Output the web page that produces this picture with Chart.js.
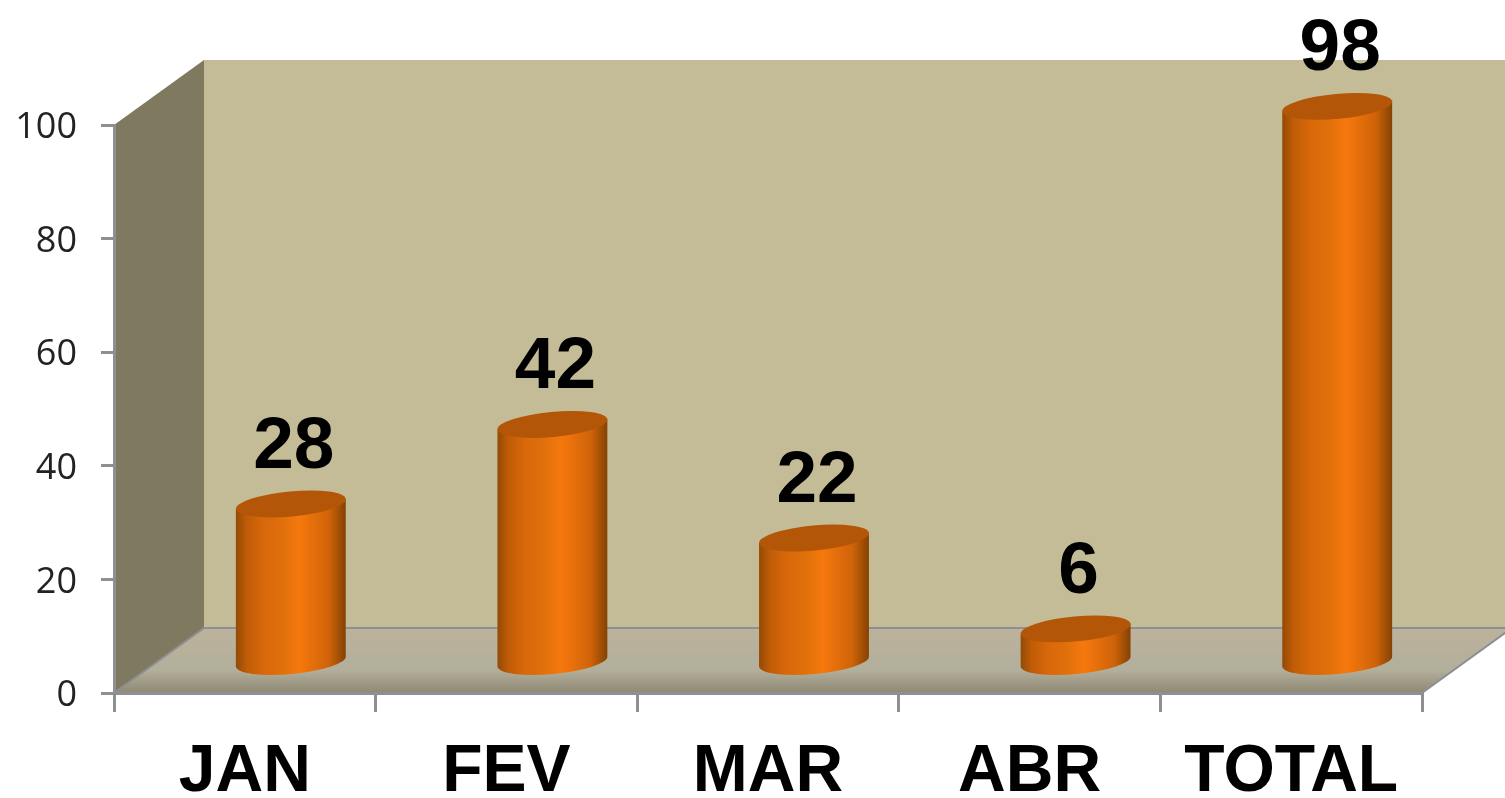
<!DOCTYPE html>
<html>
<head>
<meta charset="utf-8">
<title>Total por mês</title>
<script src="https://cdn.jsdelivr.net/npm/chart.js@4/dist/chart.umd.min.js"></script>
<style>
  html, body { margin: 0; padding: 0; background: #fff; }
  canvas { display: block; }
</style>
</head>
<body>
<canvas id="grafico" width="1505" height="798"></canvas>
<script>
const categorias = ['JAN', 'FEV', 'MAR', 'ABR', 'TOTAL'];
const valores = [28, 42, 22, 6, 98];

const corEixo = '#8e8f94';
const profX = 90, profY = 65;       // profundidade do "3D"
const baseX = 46, baseY = 30;       // onde a barra assenta no chão
const inclinacao = -0.092;          // elipse levemente girada
const raioMenor = 12.5;

// Paredes e chão
const paredes = {
  id: 'paredes',
  beforeDraw(chart) {
    const { ctx, chartArea: a } = chart;
    ctx.save();

    // parede do fundo
    ctx.fillStyle = '#c4bc96';
    ctx.fillRect(a.left + profX, a.top - profY, chart.width - a.left - profX, a.bottom - a.top);

    // parede lateral
    ctx.fillStyle = '#7f7a5f';
    ctx.beginPath();
    ctx.moveTo(a.left, a.top);
    ctx.lineTo(a.left + profX, a.top - profY);
    ctx.lineTo(a.left + profX, a.bottom - profY);
    ctx.lineTo(a.left, a.bottom);
    ctx.closePath();
    ctx.fill();

    // chão
    const g = ctx.createLinearGradient(0, a.bottom - profY, 0, a.bottom);
    g.addColorStop(0, '#bdb29c');
    g.addColorStop(0.65, '#b2af9b');
    g.addColorStop(1, '#8f8874');
    ctx.fillStyle = g;
    ctx.beginPath();
    ctx.moveTo(a.left, a.bottom);
    ctx.lineTo(a.left + profX, a.bottom - profY);
    ctx.lineTo(a.right + profX, a.bottom - profY);
    ctx.lineTo(a.right, a.bottom);
    ctx.closePath();
    ctx.fill();

    // linhas do chão
    ctx.strokeStyle = corEixo;
    ctx.lineWidth = 2;
    ctx.beginPath();
    ctx.moveTo(a.left, a.bottom);
    ctx.lineTo(a.left + profX, a.bottom - profY);
    ctx.lineTo(a.right + profX, a.bottom - profY);
    ctx.moveTo(a.right, a.bottom);
    ctx.lineTo(a.right + profX, a.bottom - profY);
    ctx.stroke();
    ctx.restore();

    // desce um pouco os números do eixo y
    chart.scales.y.getLabelItems().forEach(item => {
      item.options.translation[1] += 3;
    });
  }
};

// Cilindros e rótulos de valor
const cilindros = {
  id: 'cilindros',
  afterDatasetsDraw(chart) {
    const { ctx } = chart;
    const meta = chart.getDatasetMeta(0);
    meta.data.forEach((bar, i) => {
      const cx = bar.x + baseX;
      const top = bar.y - baseY;
      const bottom = bar.base - baseY;
      const rx = bar.width / 2 / Math.cos(inclinacao);
      const dy = rx * Math.sin(inclinacao);
      const left = cx - bar.width / 2, right = cx + bar.width / 2;

      ctx.save();
      const g = ctx.createLinearGradient(left, 0, right, 0);
      g.addColorStop(0, '#934a05');
      g.addColorStop(0.1, '#c05c07');
      g.addColorStop(0.25, '#d8680a');
      g.addColorStop(0.42, '#e0700b');
      g.addColorStop(0.58, '#f6780d');
      g.addColorStop(0.85, '#cf6309');
      g.addColorStop(1, '#844204');
      ctx.fillStyle = g;
      ctx.beginPath();
      ctx.moveTo(left, top - dy);
      ctx.lineTo(right, top + dy);
      ctx.lineTo(right, bottom + dy);
      ctx.ellipse(cx, bottom, rx, raioMenor, inclinacao, 0, Math.PI);
      ctx.closePath();
      ctx.fill();

      ctx.fillStyle = '#b35607';
      ctx.beginPath();
      ctx.ellipse(cx, top, rx, raioMenor, inclinacao, 0, Math.PI * 2);
      ctx.fill();

      ctx.fillStyle = '#000';
      ctx.font = 'bold 73px "Liberation Sans"';
      ctx.textAlign = 'center';
      ctx.textBaseline = 'alphabetic';
      ctx.fillText(String(valores[i]), cx + 3, top - 36);
      ctx.restore();
    });
  }
};

new Chart(document.getElementById('grafico'), {
  type: 'bar',
  data: {
    labels: categorias,
    datasets: [{
      data: valores,
      backgroundColor: 'rgba(0,0,0,0)',
      barPercentage: 1,
      categoryPercentage: 0.42
    }]
  },
  options: {
    responsive: false,
    animation: false,
    layout: { padding: { top: 125, right: 83 } },
    plugins: { legend: { display: false }, tooltip: { enabled: false } },
    scales: {
      x: {
        afterFit: s => { s.height = 105; },
        border: { color: corEixo, width: 3 },
        grid: { drawOnChartArea: false, color: corEixo, lineWidth: 3, tickLength: 19 },
        ticks: {
          color: '#000',
          padding: 28,
          maxRotation: 0,
          font: { family: '"Liberation Sans"', size: 66, weight: 'bold', lineHeight: 1 }
        }
      },
      y: {
        min: 0,
        max: 100,
        afterFit: s => { s.width = 114; },
        border: { color: corEixo, width: 3 },
        grid: { drawOnChartArea: false, color: corEixo, lineWidth: 3, tickLength: 13 },
        ticks: {
          stepSize: 20,
          color: '#222',
          padding: 24,
          font: { family: '"Open Sans"', size: 36 }
        }
      }
    }
  },
  plugins: [paredes, cilindros]
});
</script>
</body>
</html>
